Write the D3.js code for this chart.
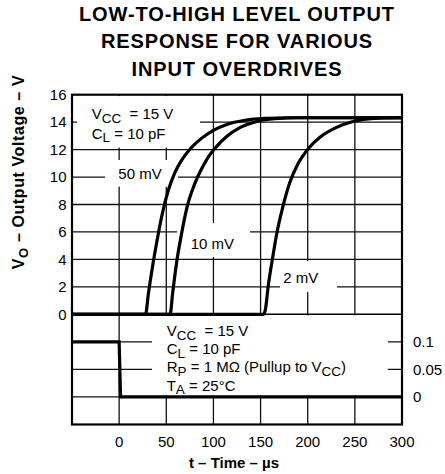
<!DOCTYPE html>
<html>
<head>
<meta charset="utf-8">
<script src="https://cdn.jsdelivr.net/npm/d3@7"></script>
<style>
  body { margin: 0; background: #fff; }
  svg text { font-family: "Liberation Sans", Arial, sans-serif; fill: #000; white-space: pre; }
</style>
</head>
<body>
<div id="chart"></div>
<script>
// ---- data ----
var titleLines = ["LOW-TO-HIGH LEVEL OUTPUT", "RESPONSE FOR VARIOUS", "INPUT OVERDRIVES"];
var timeTicks = [0, 50, 100, 150, 200, 250, 300];
var voltTicks = [0, 2, 4, 6, 8, 10, 12, 14, 16];
var inputTicks = [0, 0.05, 0.1];
var inputTickLabels = ["0", "0.05", "0.1"];

var overdrives = ["50 mV", "10 mV", "2 mV"];
var t50 = [-50, 28, 31, 35, 40, 46, 52, 59, 67, 76, 87, 100, 115, 132, 155, 185, 300];
var v50 = [0, 0, 1.5, 3.3, 5.3, 7.4, 9.0, 10.3, 11.3, 12.1, 12.8, 13.4, 13.85, 14.12, 14.27, 14.32, 14.32];
var t10 = [-50, 54, 57, 61, 66, 72, 79, 86, 94, 103, 114, 128, 146, 165, 190, 300];
var v10 = [0, 0, 1.7, 3.8, 5.8, 7.8, 9.3, 10.4, 11.4, 12.2, 12.95, 13.6, 14.05, 14.25, 14.32, 14.32];
var t2 = [-50, 153, 155, 158, 162.5, 167.5, 173.5, 181, 190, 201, 214, 230, 248, 270, 300];
var v2 = [0, 0, 0.3, 2, 4, 6, 7.8, 9.6, 11, 12.1, 12.95, 13.6, 14.05, 14.28, 14.32];

var inputT = [-50, 0, 1.5, 300];
var inputV = [0.1, 0.1, 0, 0];

// ---- layout ----
var w = 445, h = 474;
var svg = d3.select("#chart").append("svg").attr("width", w).attr("height", h);

var x = d3.scaleLinear().domain([-50, 300]).range([72, 402]);
var yTop = d3.scaleLinear().domain([0, 16]).range([314.3, 94.7]);
var yBot = d3.scaleLinear().domain([-0.05, 0.15]).range([424.5, 314.3]);

var gridColor = "#111";

// title
svg.selectAll(".title")
   .data(titleLines)
   .enter()
   .append("text")
   .attr("class", "title")
   .attr("x", 237)
   .attr("y", function(d, i) { return 20.7 + i * 27.7; })
   .attr("text-anchor", "middle")
   .attr("font-size", "20px")
   .attr("font-weight", "bold")
   .attr("letter-spacing", "0.9px")
   .text(function(d) { return d; });

// upper grid
svg.append("g").selectAll("line")
   .data(timeTicks.slice(0, -1))
   .enter().append("line")
   .attr("x1", function(d) { return x(d); })
   .attr("x2", function(d) { return x(d); })
   .attr("y1", yTop(16)).attr("y2", yTop(0))
   .attr("stroke", gridColor).attr("stroke-width", 1.3);

svg.append("g").selectAll("line")
   .data(voltTicks.slice(1, -1))
   .enter().append("line")
   .attr("x1", x(-50)).attr("x2", x(300))
   .attr("y1", function(d) { return yTop(d); })
   .attr("y2", function(d) { return yTop(d); })
   .attr("stroke", gridColor).attr("stroke-width", 1.3);

// lower grid
svg.append("g").selectAll("line")
   .data(timeTicks.slice(0, -1))
   .enter().append("line")
   .attr("x1", function(d) { return x(d); })
   .attr("x2", function(d) { return x(d); })
   .attr("y1", yBot(0.15)).attr("y2", yBot(-0.05))
   .attr("stroke", gridColor).attr("stroke-width", 1.3);

svg.append("g").selectAll("line")
   .data(inputTicks)
   .enter().append("line")
   .attr("x1", x(-50)).attr("x2", x(300))
   .attr("y1", function(d) { return yBot(d); })
   .attr("y2", function(d) { return yBot(d); })
   .attr("stroke", gridColor).attr("stroke-width", 1.3);

// white label boxes that hide the grid
var boxes = [
  [x(-44.7), yTop(15.9), x(85.7), yTop(12.15)],
  [x(-15), yTop(11.24), x(62.4), yTop(9.3)],
  [x(61.4), yTop(6.65), x(138.8), yTop(4.17)],
  [x(170.6), yTop(3.88), x(231), yTop(1.62)],
  [x(34.8), yBot(0.148), x(285), yBot(0.003)]
];
svg.append("g").selectAll("rect")
   .data(boxes)
   .enter().append("rect")
   .attr("x", function(d) { return d[0]; })
   .attr("y", function(d) { return d[1]; })
   .attr("width", function(d) { return d[2] - d[0]; })
   .attr("height", function(d) { return d[3] - d[1]; })
   .attr("fill", "#fff");

// frame
svg.append("rect")
   .attr("x", x(-50)).attr("y", yTop(16))
   .attr("width", x(300) - x(-50)).attr("height", yBot(-0.05) - yTop(16))
   .attr("fill", "none").attr("stroke", "#000").attr("stroke-width", 2.2);
svg.append("line")
   .attr("x1", x(-50)).attr("x2", x(300))
   .attr("y1", yTop(0)).attr("y2", yTop(0))
   .attr("stroke", "#000").attr("stroke-width", 1.6);

// curves
var line = d3.line()
   .x(function(d) { return x(d[0]); })
   .y(function(d) { return yTop(d[1]); })
   .curve(d3.curveMonotoneX);

var series = [[t50, v50], [t10, v10], [t2, v2]];
svg.append("g").selectAll("path")
   .data(series)
   .enter().append("path")
   .attr("d", function(s) { return line(d3.zip(s[0], s[1])); })
   .attr("fill", "none")
   .attr("stroke", "#000")
   .attr("stroke-width", 3.2)
   .attr("stroke-linejoin", "round");

var inputLine = d3.line()
   .x(function(d) { return x(d[0]); })
   .y(function(d) { return yBot(d[1]); });
svg.append("path")
   .attr("d", inputLine(d3.zip(inputT, inputV)))
   .attr("fill", "none")
   .attr("stroke", "#000")
   .attr("stroke-width", 3.2);

// tick labels
svg.selectAll(".ylab")
   .data(voltTicks)
   .enter().append("text")
   .attr("x", 66.5)
   .attr("y", function(d) { return yTop(d); })
   .attr("dy", "0.35em")
   .attr("text-anchor", "end")
   .attr("font-size", "15px")
   .text(function(d) { return d; });

svg.selectAll(".xlab")
   .data(timeTicks)
   .enter().append("text")
   .attr("x", function(d) { return x(d); })
   .attr("y", 446.5)
   .attr("text-anchor", "middle")
   .attr("font-size", "15px")
   .text(function(d) { return d; });

svg.selectAll(".rlab")
   .data(inputTicks)
   .enter().append("text")
   .attr("x", 413)
   .attr("y", function(d) { return yBot(d); })
   .attr("dy", "0.35em")
   .attr("font-size", "15px")
   .text(function(d, i) { return inputTickLabels[i]; });

// axis titles
svg.append("text")
   .attr("x", 234).attr("y", 468)
   .attr("text-anchor", "middle")
   .attr("font-size", "15px")
   .attr("font-weight", "bold")
   .text("t – Time – µs");

var yt = svg.append("text")
   .attr("transform", "translate(24,172) rotate(-90)")
   .attr("text-anchor", "middle")
   .attr("font-size", "16px")
   .attr("font-weight", "bold")
   .attr("letter-spacing", "0.6px");
yt.append("tspan").text("V");
yt.append("tspan").attr("dy", 4).attr("font-size", "13px").text("O");
yt.append("tspan").attr("dy", -4).text(" – Output Voltage – V");

// annotation text with subscripts
function richText(px, py, parts) {
  var t = svg.append("text").attr("x", px).attr("y", py).attr("font-size", "15px");
  var shifted = false;
  parts.forEach(function(p) {
    var s = t.append("tspan").text(p[0]);
    if (p[1] && !shifted) { s.attr("dy", 3.5).attr("font-size", "13.5px"); shifted = true; }
    else if (!p[1] && shifted) { s.attr("dy", -3.5); shifted = false; }
    else if (p[1]) { s.attr("font-size", "13.5px"); }
  });
}

richText(91.7, 119, [["V"], ["CC", 1], ["  = 15 V"]]);
richText(91.7, 138.7, [["C"], ["L", 1], [" = 10 pF"]]);

var labelPos = [[118.3, 179.3], [190.7, 249.3], [283.3, 283.3]];
svg.selectAll(".od")
   .data(overdrives)
   .enter().append("text")
   .attr("x", function(d, i) { return labelPos[i][0]; })
   .attr("y", function(d, i) { return labelPos[i][1]; })
   .attr("font-size", "15px")
   .text(function(d) { return d; });

richText(166.7, 336, [["V"], ["CC", 1], ["  = 15 V"]]);
richText(166.7, 354, [["C"], ["L", 1], [" = 10 pF"]]);
richText(166.7, 372, [["R"], ["P", 1], [" = 1 MΩ (Pullup to V"], ["CC", 1], [")"]]);
richText(166.7, 390.5, [["T"], ["A", 1], [" = 25°C"]]);
</script>
</body>
</html>
